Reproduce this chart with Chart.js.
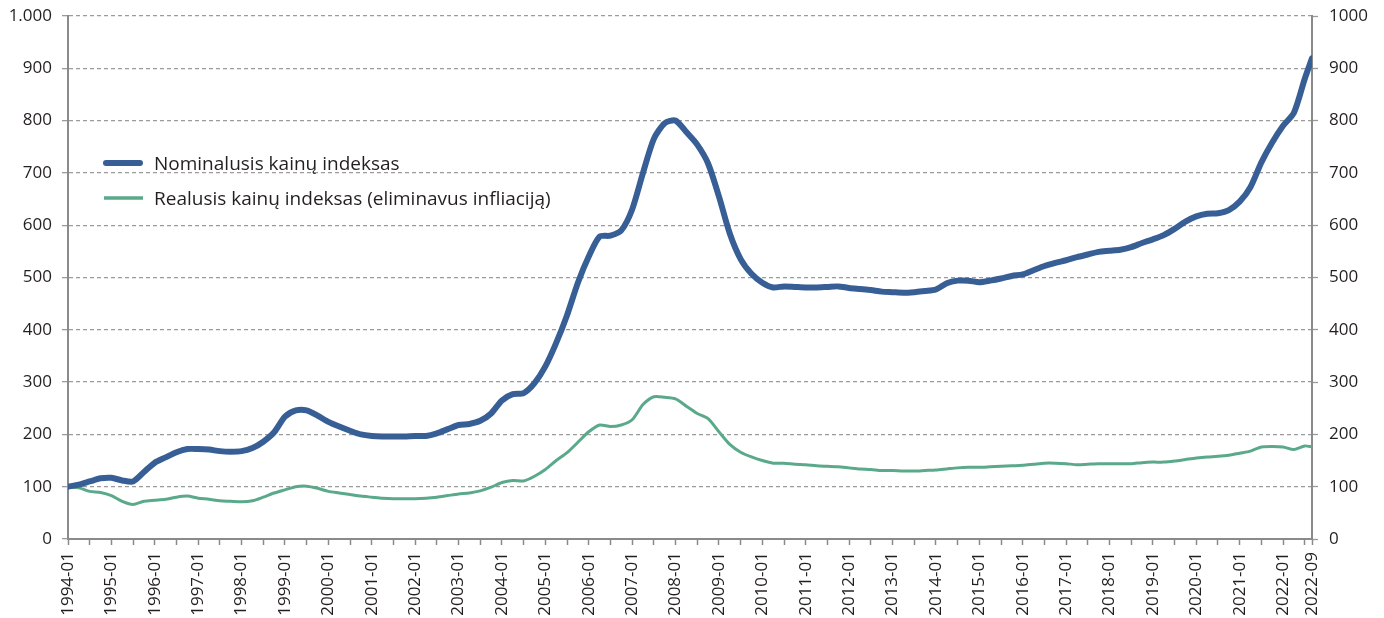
<!DOCTYPE html>
<html lang="lt">
<head>
<meta charset="utf-8">
<title>Būsto kainų indeksai</title>
<script src="https://cdn.jsdelivr.net/npm/chart.js@4/dist/chart.umd.min.js"></script>
<style>
  html, body { margin: 0; padding: 0; background: #fff; }
  #wrap { position: relative; width: 1384px; height: 618px; }
</style>
</head>
<body>
<div id="wrap"><canvas id="priceChart"></canvas></div>
<script>
// quarterly readings, 1994-01 = 100
const periods = [
  '1994-01','1994-04','1994-07','1994-10',
  '1995-01','1995-04','1995-07','1995-10',
  '1996-01','1996-04','1996-07','1996-10',
  '1997-01','1997-04','1997-07','1997-10',
  '1998-01','1998-04','1998-07','1998-10',
  '1999-01','1999-04','1999-07','1999-10',
  '2000-01','2000-04','2000-07','2000-10',
  '2001-01','2001-04','2001-07','2001-10',
  '2002-01','2002-04','2002-07','2002-10',
  '2003-01','2003-04','2003-07','2003-10',
  '2004-01','2004-04','2004-07','2004-10',
  '2005-01','2005-04','2005-07','2005-10',
  '2006-01','2006-04','2006-07','2006-10',
  '2007-01','2007-04','2007-07','2007-10',
  '2008-01','2008-04','2008-07','2008-10',
  '2009-01','2009-04','2009-07','2009-10',
  '2010-01','2010-04','2010-07','2010-10',
  '2011-01','2011-04','2011-07','2011-10',
  '2012-01','2012-04','2012-07','2012-10',
  '2013-01','2013-04','2013-07','2013-10',
  '2014-01','2014-04','2014-07','2014-10',
  '2015-01','2015-04','2015-07','2015-10',
  '2016-01','2016-04','2016-07','2016-10',
  '2017-01','2017-04','2017-07','2017-10',
  '2018-01','2018-04','2018-07','2018-10',
  '2019-01','2019-04','2019-07','2019-10',
  '2020-01','2020-04','2020-07','2020-10',
  '2021-01','2021-04','2021-07','2021-10',
  '2022-01','2022-04','2022-07','2022-09'
];

const nominalIndex = [
  100, 104, 110, 116,
  117, 112, 110, 128,
  146, 156, 166, 172,
  172, 171, 168, 167,
  168, 174, 186, 204,
  234, 246, 246, 236,
  224, 215, 207, 200,
  197, 196, 196, 196,
  197, 197, 202, 210,
  218, 220, 226, 240,
  265, 277, 279, 298,
  330, 375, 428, 490,
  540, 578, 580, 590,
  630, 700, 765, 795,
  800, 778, 754, 718,
  655, 584, 535, 507,
  490, 481, 483, 482,
  481, 481, 482, 483,
  480, 478, 476, 473,
  472, 471, 472, 474,
  477, 489, 494, 494,
  491, 494, 498, 503,
  506, 514, 522, 528,
  533, 539, 544, 549,
  551, 553, 558, 566,
  573, 581, 593, 607,
  617, 622, 623, 629,
  645, 673, 720, 758,
  790, 815, 880, 919
];

const realIndex = [
  100, 98, 91, 89,
  83, 72, 66, 72,
  74, 76, 80, 82,
  78, 76, 73, 72,
  71, 73, 80, 88,
  94, 100, 101, 97,
  91, 88, 85, 82,
  80, 78, 77, 77,
  77, 78, 80, 83,
  86, 88, 92, 99,
  108, 112, 111, 120,
  133, 150, 165, 185,
  205, 218, 215, 218,
  228, 257, 272, 271,
  268, 254, 240, 230,
  205, 181, 166, 157,
  150, 145, 145, 143,
  142, 140, 139, 138,
  136, 134, 133, 131,
  131, 130, 130, 131,
  132, 134, 136, 137,
  137, 138, 139, 140,
  141, 143, 145, 145,
  144, 142, 143, 144,
  144, 144, 144, 146,
  147, 147, 149, 152,
  155, 157, 158, 160,
  164, 168, 176, 177,
  176, 171, 178, 176
];

const xTickLabels = [
  '1994-01','1995-01','1996-01','1997-01','1998-01','1999-01','2000-01',
  '2001-01','2002-01','2003-01','2004-01','2005-01','2006-01','2007-01',
  '2008-01','2009-01','2010-01','2011-01','2012-01','2013-01','2014-01',
  '2015-01','2016-01','2017-01','2018-01','2019-01','2020-01','2021-01',
  '2022-01','2022-09'
];

const seriesNames = ['Nominalusis kainų indeksas', 'Realusis kainų indeksas (eliminavus infliaciją)'];

const FONT = '"Open Sans", "Noto Sans", sans-serif';
const AXIS_GRAY = '#8a8a8a';
const TEXT = '#231f20';

// months since 1994-01
function monthIndex(p) {
  const [y, m] = p.split('-').map(Number);
  return (y - 1994) * 12 + (m - 1);
}

const xs = periods.map(monthIndex);
const lastMonth = monthIndex('2022-09');
const labelAt = {};
xTickLabels.forEach(l => { labelAt[monthIndex(l)] = l; });

// legend drawn inside the plot, upper left
const insideLegend = {
  id: 'insideLegend',
  afterDatasetsDraw(chart) {
    const ctx = chart.ctx;
    ctx.save();
    ctx.font = '19px ' + FONT;
    ctx.fillStyle = TEXT;
    ctx.textBaseline = 'alphabetic';
    chart.data.datasets.forEach((ds, i) => {
      const y = 163 + i * 35;
      ctx.strokeStyle = ds.borderColor;
      ctx.lineWidth = i === 0 ? 6 : 3.5;
      ctx.lineCap = i === 0 ? 'round' : 'butt';
      ctx.beginPath();
      ctx.moveTo(i === 0 ? 106 : 104, y);
      ctx.lineTo(i === 0 ? 140 : 143, y);
      ctx.stroke();
      ctx.fillText(ds.label, 154, y + 6.5);
    });
    ctx.restore();
  }
};

const fitY = w => scale => {
  scale.width = w;
  scale.paddingTop = 0;
  scale.paddingBottom = 0;
};

new Chart(document.getElementById('priceChart'), {
  type: 'line',
  data: {
    datasets: [
      {
        label: seriesNames[0],
        data: xs.map((x, i) => ({ x, y: nominalIndex[i] })),
        borderColor: '#375f96',
        borderWidth: 6,
        borderCapStyle: 'round',
        borderJoinStyle: 'round',
        pointRadius: 0,
        tension: 0.25,
        yAxisID: 'y'
      },
      {
        label: seriesNames[1],
        data: xs.map((x, i) => ({ x, y: realIndex[i] })),
        borderColor: '#5aa98a',
        borderWidth: 3,
        borderCapStyle: 'round',
        borderJoinStyle: 'round',
        pointRadius: 0,
        tension: 0.25,
        yAxisID: 'y'
      }
    ]
  },
  options: {
    responsive: true,
    maintainAspectRatio: false,
    animation: false,
    layout: { padding: { top: 16, left: 0, right: 0, bottom: 0 } },
    plugins: {
      legend: { display: false },
      tooltip: { enabled: false }
    },
    scales: {
      x: {
        type: 'linear',
        min: 0,
        max: lastMonth,
        afterBuildTicks: scale => {
          const t = [];
          for (let m = 0; m < lastMonth; m += 6) t.push({ value: m });
          t.push({ value: lastMonth });
          scale.ticks = t;
        },
        afterFit: scale => { scale.height = 79; },
        grid: {
          display: true,
          drawOnChartArea: false,
          drawTicks: true,
          tickLength: 6,
          tickColor: AXIS_GRAY,
          tickWidth: 1.5
        },
        border: { display: true, color: AXIS_GRAY, width: 2 },
        ticks: {
          autoSkip: false,
          maxRotation: 90,
          minRotation: 90,
          padding: 7,
          color: TEXT,
          font: { family: FONT, size: 17 },
          callback: v => labelAt[v] || ''
        }
      },
      y: {
        position: 'left',
        min: 0,
        max: 1000,
        afterFit: fitY(68),
        grid: {
          color: '#9b9b9b',
          lineWidth: 1.3,
          tickLength: 6,
          tickColor: '#9b9b9b',
          tickWidth: 1.3
        },
        border: { display: true, color: AXIS_GRAY, width: 2, dash: [4, 3] },
        ticks: {
          stepSize: 100,
          padding: 10,
          color: TEXT,
          font: { family: FONT, size: 17 },
          callback: v => v === 1000 ? '1.000' : String(v)
        }
      },
      y1: {
        position: 'right',
        min: 0,
        max: 1000,
        afterFit: fitY(72),
        grid: {
          drawOnChartArea: false,
          tickLength: 6,
          tickColor: '#9b9b9b',
          tickWidth: 1.3
        },
        border: { display: true, color: AXIS_GRAY, width: 2 },
        ticks: {
          stepSize: 100,
          padding: 11,
          color: TEXT,
          font: { family: FONT, size: 17 },
          callback: v => String(v)
        }
      }
    }
  },
  plugins: [insideLegend]
});
</script>
</body>
</html>
